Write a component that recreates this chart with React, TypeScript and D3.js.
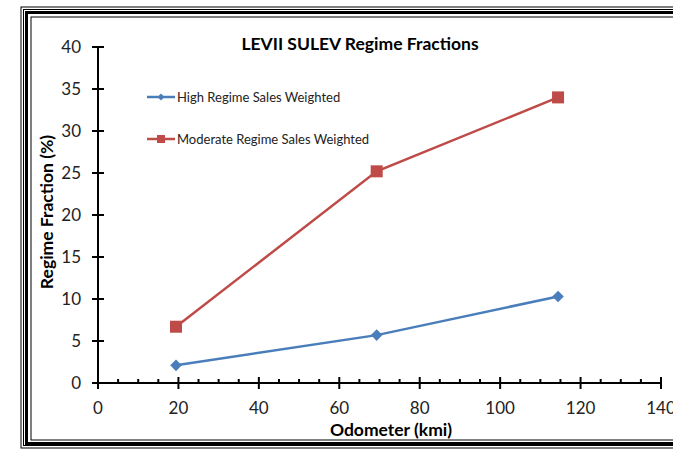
import React from "react";
import * as d3 from "d3";

const odometer = [19.4, 69.3, 114.4];
const highRegime = [2.1, 5.7, 10.3];
const moderateRegime = [6.7, 25.2, 34.0];
const yTicks = [0, 5, 10, 15, 20, 25, 30, 35, 40];
const xTicks = [0, 20, 40, 60, 80, 100, 120, 140];
const xMinor = d3.range(0, 141, 5);
const seriesNames = ["High Regime Sales Weighted", "Moderate Regime Sales Weighted"];
const title = "LEVII SULEV Regime Fractions";

const W = 673, H = 449;
const FONT = "Lato, 'Open Sans', sans-serif";
const BLUE = "#4a7ebb";
const RED = "#be4b48";

export default function App() {
  const x = d3.scaleLinear().domain([0, 140]).range([98, 661]);
  const y = d3.scaleLinear().domain([0, 40]).range([383, 47]);
  const line = d3.line<number>().x((_, i) => x(odometer[i])).y((d) => y(d));
  const diamond = d3.symbol().type(d3.symbolDiamond2).size(85)();

  return (
    <div style={{ position: "absolute", left: 0, top: 0 }}>
      <svg width={W} height={H} style={{ display: "block", background: "#fff" }}>
        {/* frame */}
        <g fill="none" stroke="#000">
          <rect x={21} y={7} width={700} height={441} strokeWidth={1} />
          <rect x={23.5} y={9.5} width={700} height={436} strokeWidth={1} />
          <rect x={26.5} y={12.5} width={700} height={431} strokeWidth={3} />
          <rect x={31} y={17} width={700} height={423} strokeWidth={1} />
        </g>
        {/* title */}
        <text x={360} y={50} textAnchor="middle" fontFamily={FONT} fontWeight="bold" fontSize={17.5} fill="#000">{title}</text>
        {/* y axis */}
        <line x1={x(0)} x2={x(0)} y1={y(0)} y2={y(40)} stroke="#000" strokeWidth={2} />
        {yTicks.map((t) => (
          <g key={"y" + t}>
            <line x1={x(0) - 6} x2={x(0) + 6} y1={y(t)} y2={y(t)} stroke="#000" strokeWidth={2} />
            <text x={81} y={y(t) + 6} textAnchor="end" fontFamily={FONT} fontSize={17} fill="#222">{t}</text>
          </g>
        ))}
        {/* x axis */}
        <line x1={x(0)} x2={x(140)} y1={y(0)} y2={y(0)} stroke="#000" strokeWidth={2} />
        {xMinor.filter((t) => t % 20 !== 0).map((t) => (
          <line key={"m" + t} x1={x(t)} x2={x(t)} y1={y(0) - 4} y2={y(0)} stroke="#000" strokeWidth={2} />
        ))}
        {xTicks.map((t) => (
          <g key={"x" + t}>
            <line x1={x(t)} x2={x(t)} y1={y(0) - 6} y2={y(0) + 6} stroke="#000" strokeWidth={2} />
            <text x={x(t)} y={414} textAnchor="middle" fontFamily={FONT} fontSize={17} fill="#222">{t}</text>
          </g>
        ))}
        <text x={391} y={436} textAnchor="middle" fontFamily={FONT} fontWeight="bold" fontSize={17.5} fill="#000">Odometer (kmi)</text>
        <text transform={`translate(53,212) rotate(-90)`} textAnchor="middle" fontFamily={FONT} fontWeight="bold" fontSize={17.5} fill="#000">Regime Fraction (%)</text>
        {/* series */}
        <path d={line(highRegime) || ""} fill="none" stroke={BLUE} strokeWidth={2.5} />
        <path d={line(moderateRegime) || ""} fill="none" stroke={RED} strokeWidth={2.5} />
        {highRegime.map((v, i) => (
          <path key={"h" + i} d={diamond || ""} transform={`translate(${x(odometer[i])},${y(v)})`} fill={BLUE} />
        ))}
        {moderateRegime.map((v, i) => (
          <rect key={"r" + i} x={x(odometer[i]) - 6} y={y(v) - 6} width={12} height={12} fill={RED} />
        ))}
        {/* legend */}
        <g>
          <line x1={147} x2={175} y1={97} y2={97} stroke={BLUE} strokeWidth={2.5} />
          <path d={d3.symbol().type(d3.symbolDiamond2).size(30)() || ""} transform="translate(161,97)" fill={BLUE} />
          <text x={177} y={101.5} fontFamily={FONT} fontSize={13} fill="#222">{seriesNames[0]}</text>
          <line x1={147} x2={175} y1={139} y2={139} stroke={RED} strokeWidth={2.5} />
          <rect x={157} y={135} width={8} height={8} fill={RED} />
          <text x={177} y={143.5} fontFamily={FONT} fontSize={13} fill="#222">{seriesNames[1]}</text>
        </g>
      </svg>
    </div>
  );
}
